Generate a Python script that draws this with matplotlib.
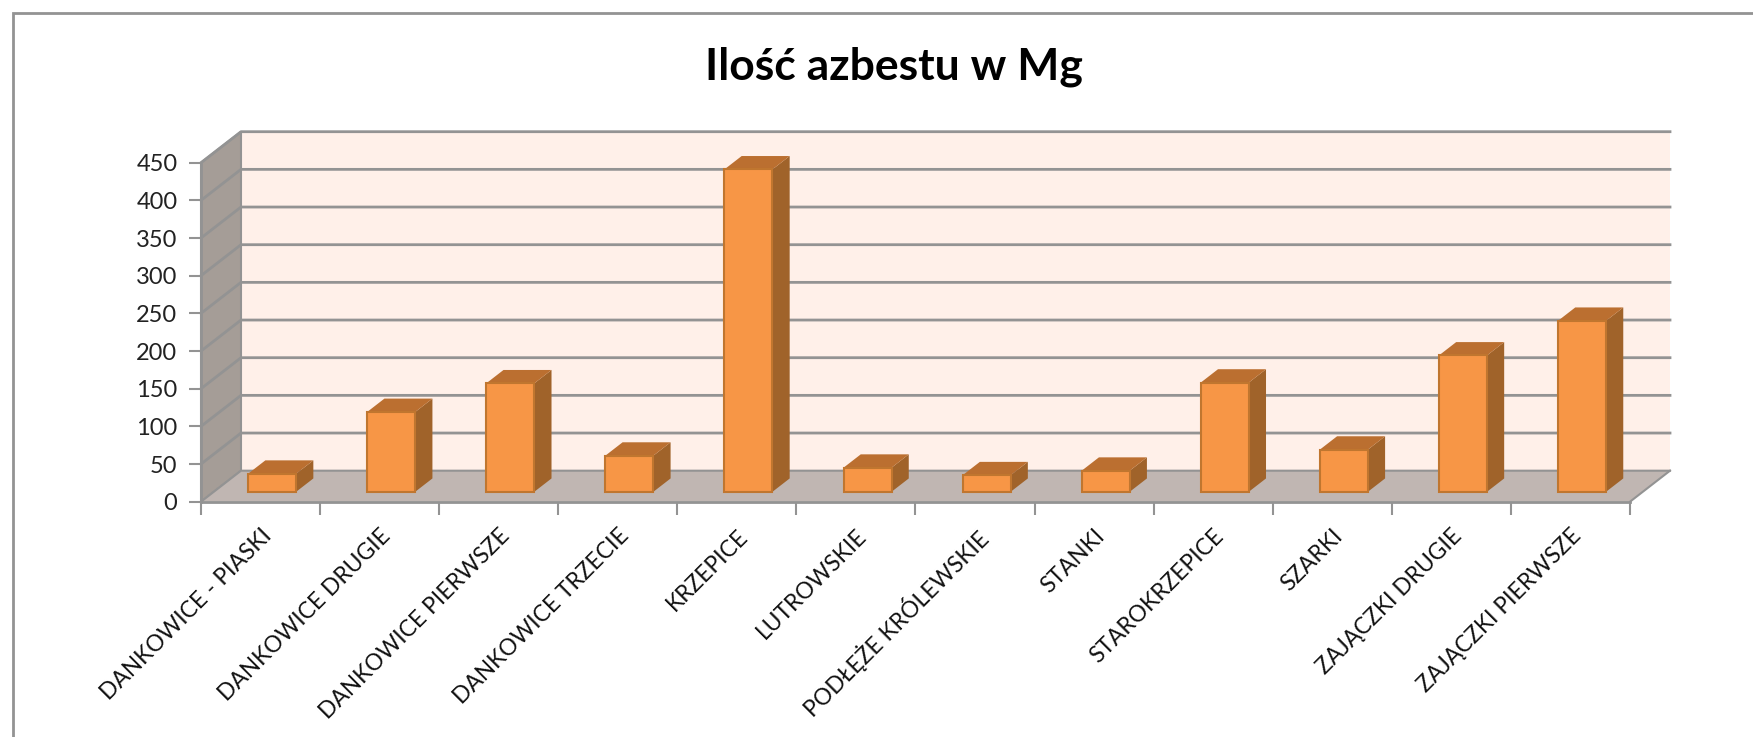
import matplotlib.pyplot as plt
from matplotlib.patches import Polygon, Rectangle

plt.rcParams['font.family'] = ['Lato', 'DejaVu Sans']

categories = ['DANKOWICE - PIASKI', 'DANKOWICE DRUGIE', 'DANKOWICE PIERWSZE', 'DANKOWICE TRZECIE',
              'KRZEPICE', 'LUTROWSKIE', 'PODŁĘŻE KRÓLEWSKIE', 'STANKI', 'STAROKRZEPICE', 'SZARKI',
              'ZAJĄCZKI DRUGIE', 'ZAJĄCZKI PIERWSZE']
values = [24, 106, 144, 48, 428, 32, 22, 28, 145, 56, 181, 227]
y_ticks = [0, 50, 100, 150, 200, 250, 300, 350, 400, 450]

W, H = 1753, 737
# depth of the fake 3d box, in data units
dx = 40 / 119.08
dy = 31 / 0.7533
bar_w = 48 / 119.08
grey = '#939393'

fig = plt.figure(figsize=(W / 100, H / 100), dpi=100)
# outer chart frame, only left and top edges are inside the picture
fig.add_artist(Rectangle((12.5 / W, -0.1), 1.2, 1.1 - 12.5 / H, transform=fig.transFigure,
                         fc='white', ec=grey, lw=2, zorder=-1))
ax = fig.add_axes([201 / W, (H - 501.7) / H, 1429 / W, 339 / H])
ax.set_xlim(0, 12)
ax.set_ylim(0, 450)
ax.patch.set_visible(False)
for s in ['top', 'right']:
    ax.spines[s].set_visible(False)
for s in ['left', 'bottom']:
    ax.spines[s].set_color(grey)
    ax.spines[s].set_linewidth(2)


def poly(pts, fc, ec='none', lw=0, z=1):
    ax.add_patch(Polygon(pts, closed=True, fc=fc, ec=ec, lw=lw, zorder=z, clip_on=False))


# walls and floor
poly([(dx, dy), (12 + dx, dy), (12 + dx, 450 + dy), (dx, 450 + dy)], '#fff0e9')
poly([(0, 0), (dx, dy), (dx, 450 + dy), (0, 450)], '#a59d97', grey, 1.5)
poly([(0, 0), (12, 0), (12 + dx, dy), (dx, dy)], '#c0b6b2')
ax.plot([12, 12 + dx], [0, dy], color=grey, lw=1.5, clip_on=False, zorder=2)

# grid
for t in y_ticks[1:]:
    ax.plot([0, dx, 12 + dx], [t, t + dy, t + dy], color=grey, lw=2, clip_on=False, zorder=2)
ax.plot([0, dx, 12 + dx], [0, dy, dy], color=grey, lw=1.5, clip_on=False, zorder=2)

# bars
base = 0.32 * dy
depth_x = 0.43 * dx
depth_y = 0.43 * dy
for i, v in enumerate(values):
    center = i + 0.5 + 0.29 * dx
    x0 = center - bar_w / 2
    x1 = x0 + bar_w
    top = base + v
    poly([(x1, base), (x1 + depth_x, base + depth_y), (x1 + depth_x, top + depth_y), (x1, top)], '#a0632a', z=3)
    poly([(x0, top), (x1, top), (x1 + depth_x, top + depth_y), (x0 + depth_x, top + depth_y)], '#bb6f30', z=3)
    ax.bar(center, v, width=bar_w, bottom=base, color='#f79646', edgecolor='#c0762f',
           linewidth=1.5, zorder=4, clip_on=False)

ax.set_yticks(y_ticks)
ax.tick_params(axis='y', length=9, width=1.5, color=grey, labelsize=17, labelcolor='#222222', pad=8)
ax.set_xticks(range(13))
ax.set_xticklabels([])
ax.set_xticks([i + 0.5 for i in range(12)], categories, minor=True, rotation=45, ha='right',
              rotation_mode='anchor')
ax.tick_params(axis='x', which='major', length=9, width=1.5, color=grey)
ax.tick_params(axis='x', which='minor', length=0, labelsize=16.4, labelcolor='#111111', pad=17)

fig.text(894 / W, 1 - 67 / H, 'Ilość azbestu w Mg', fontsize=32, fontweight='bold', ha='center', va='center')

plt.savefig('out.png', dpi=100)
